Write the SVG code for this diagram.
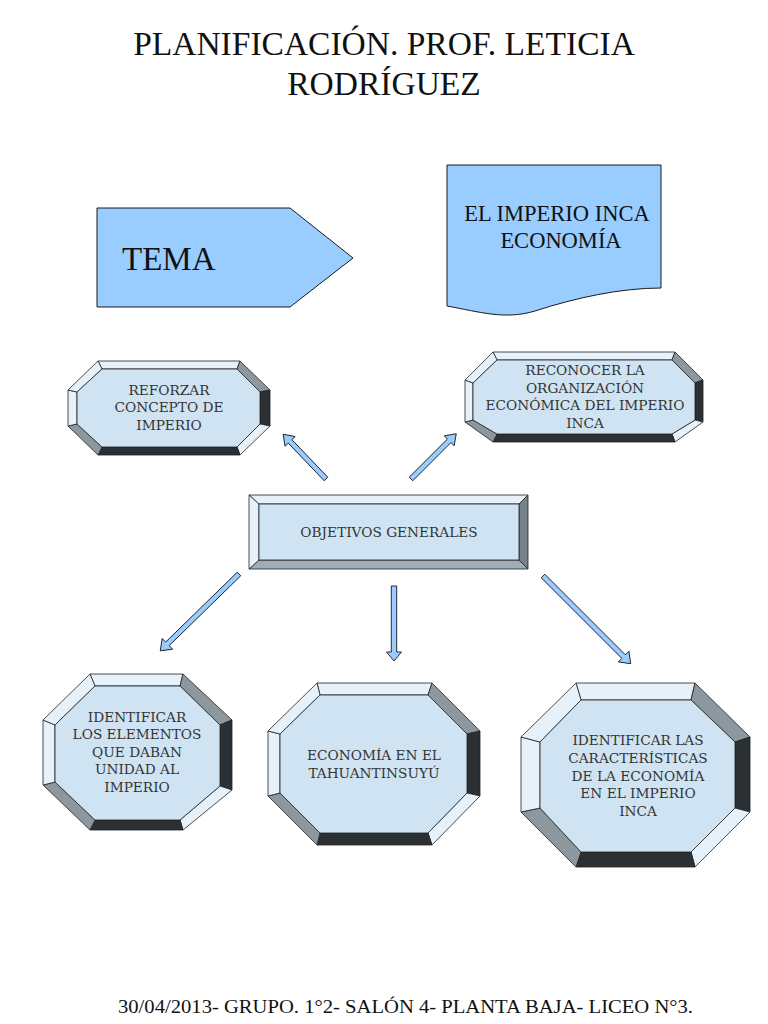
<svg xmlns="http://www.w3.org/2000/svg" width="768" height="1024" viewBox="0 0 768 1024">
<style>
.title{font-family:"Liberation Serif",serif;font-size:33.5px;fill:#111;text-anchor:middle}
.foot{font-family:"Liberation Serif",serif;font-size:18px;fill:#111}
.big{font-family:"Liberation Serif",serif;fill:#111}
.shape{fill:#99ccff;stroke:#1a1a1a;stroke-width:1}
.lt{fill:#e6f1fa;stroke:#222;stroke-width:0.8}
.gr{fill:#8c979e;stroke:#222;stroke-width:0.8}
.dk{fill:#2a3033;stroke:#222;stroke-width:0.8}
.mg{fill:#9eaeb9;stroke:#222;stroke-width:0.8}
.rg{fill:#75828a;stroke:#222;stroke-width:0.8}
.face{fill:#cfe3f2;stroke:#222;stroke-width:0.8}
.lbl{font-family:"DejaVu Serif",serif;font-size:13.7px;fill:#333;text-anchor:middle}
.arr{fill:#99ccff;stroke:#1a1a1a;stroke-width:0.9}
</style>
<rect width="768" height="1024" fill="#fff"/>
<text class="title" x="384" y="55">PLANIFICACIÓN. PROF. LETICIA</text>
<text class="title" x="384" y="95">RODRÍGUEZ</text>

<g id="tema">
<polygon class="shape" points="97,208 290,208 353,258 290,307 97,307"/>
<text class="big" x="122" y="270" font-size="33">TEMA</text>
</g>

<g id="imperio">
<path class="shape" d="M447,165 H661 V288 C620,288 575,298 535,311 C505,320 480,312 447,306 Z"/>
<text class="big" x="557" y="221" font-size="22.5" text-anchor="middle">EL IMPERIO INCA</text>
<text class="big" x="561" y="248" font-size="22.5" text-anchor="middle">ECONOMÍA</text>
</g>

<g id="reforzar">
<polygon class="lt" points="98,361 240,361 237,369 102,369"/>
<polygon class="gr" points="240,361 270,390 260,392 237,369"/>
<polygon class="dk" points="270,390 270,426 260,424 260,392"/>
<polygon class="lt" points="270,426 240,455 237,447 260,424"/>
<polygon class="dk" points="240,455 98,455 102,447 237,447"/>
<polygon class="gr" points="98,455 68,426 77,424 102,447"/>
<polygon class="lt" points="68,426 68,390 77,392 77,424"/>
<polygon class="lt" points="68,390 98,361 102,369 77,392"/>
<polygon class="face" points="102,369 237,369 260,392 260,424 237,447 102,447 77,424 77,392"/>
<text class="lbl" x="169" y="395">REFORZAR</text>
<text class="lbl" x="169" y="412">CONCEPTO DE</text>
<text class="lbl" x="169" y="430">IMPERIO</text>
</g>

<g id="reconocer">
<polygon class="lt" points="493,352 675,352 672,360 497,360"/>
<polygon class="gr" points="675,352 703,380 695,383 672,360"/>
<polygon class="dk" points="703,380 703,422 695,420 695,383"/>
<polygon class="lt" points="703,422 675,442 672,434 695,420"/>
<polygon class="dk" points="675,442 493,442 497,434 672,434"/>
<polygon class="gr" points="493,442 465,422 473,420 497,434"/>
<polygon class="lt" points="465,422 465,380 473,383 473,420"/>
<polygon class="lt" points="465,380 493,352 497,360 473,383"/>
<polygon class="face" points="497,360 672,360 695,383 695,420 672,434 497,434 473,420 473,383"/>
<text class="lbl" x="585" y="375">RECONOCER LA</text>
<text class="lbl" x="585" y="393">ORGANIZACIÓN</text>
<text class="lbl" x="585" y="410">ECONÓMICA DEL IMPERIO</text>
<text class="lbl" x="585" y="428">INCA</text>
</g>

<g id="objetivos">
<polygon class="lt" points="249,495 528,495 519,504 259,504"/>
<polygon class="rg" points="528,495 528,569 519,560 519,504"/>
<polygon class="mg" points="528,569 249,569 259,560 519,560"/>
<polygon class="lt" points="249,569 249,495 259,504 259,560"/>
<rect class="face" x="259" y="504" width="260" height="56"/>
<text class="lbl" x="389" y="537">OBJETIVOS GENERALES</text>
</g>

<g id="identificar-elementos">
<polygon class="lt" points="90,674 183,674 180,686 95,686"/>
<polygon class="gr" points="183,674 232,720 220,725 180,686"/>
<polygon class="dk" points="232,720 232,790 220,786 220,725"/>
<polygon class="lt" points="232,790 183,830 180,820 220,786"/>
<polygon class="dk" points="183,830 90,830 95,820 180,820"/>
<polygon class="gr" points="90,830 43,785 55,782 95,820"/>
<polygon class="lt" points="43,785 43,720 55,725 55,782"/>
<polygon class="lt" points="43,720 90,674 95,686 55,725"/>
<polygon class="face" points="95,686 180,686 220,725 220,786 180,820 95,820 55,782 55,725"/>
<text class="lbl" x="137" y="722">IDENTIFICAR</text>
<text class="lbl" x="137" y="739">LOS ELEMENTOS</text>
<text class="lbl" x="137" y="757">QUE DABAN</text>
<text class="lbl" x="137" y="774">UNIDAD AL</text>
<text class="lbl" x="137" y="792">IMPERIO</text>
</g>

<g id="economia">
<polygon class="lt" points="317,683 432,683 428,695 320,695"/>
<polygon class="gr" points="432,683 480,731 467,734 428,695"/>
<polygon class="dk" points="480,731 480,796 467,793 467,734"/>
<polygon class="lt" points="480,796 432,845 428,833 467,793"/>
<polygon class="dk" points="432,845 317,845 320,833 428,833"/>
<polygon class="gr" points="317,845 268,796 280,793 320,833"/>
<polygon class="lt" points="268,796 268,731 280,734 280,793"/>
<polygon class="lt" points="268,731 317,683 320,695 280,734"/>
<polygon class="face" points="320,695 428,695 467,734 467,793 428,833 320,833 280,793 280,734"/>
<text class="lbl" x="374" y="760">ECONOMÍA EN EL</text>
<text class="lbl" x="374" y="778">TAHUANTINSUYÚ</text>
</g>

<g id="identificar-caracteristicas">
<polygon class="lt" points="576,683 695,683 691,700 581,700"/>
<polygon class="gr" points="695,683 750,737 735,742 691,700"/>
<polygon class="dk" points="750,737 750,812 735,808 735,742"/>
<polygon class="lt" points="750,812 695,867 691,852 735,808"/>
<polygon class="dk" points="695,867 576,867 581,852 691,852"/>
<polygon class="gr" points="576,867 521,812 540,808 581,852"/>
<polygon class="lt" points="521,812 521,737 540,742 540,808"/>
<polygon class="lt" points="521,737 576,683 581,700 540,742"/>
<polygon class="face" points="581,700 691,700 735,742 735,808 691,852 581,852 540,808 540,742"/>
<text class="lbl" x="638" y="745">IDENTIFICAR LAS</text>
<text class="lbl" x="638" y="763">CARACTERÍSTICAS</text>
<text class="lbl" x="638" y="781">DE LA ECONOMÍA</text>
<text class="lbl" x="638" y="798">EN EL IMPERIO</text>
<text class="lbl" x="638" y="816">INCA</text>
</g>

<g id="connectors">
<polygon class="arr" transform="translate(326,479) rotate(-133.7)" points="0,-2.5 52,-2.5 52,-7 62,0 52,7 52,2.5 0,2.5"/>
<polygon class="arr" transform="translate(411,479) rotate(-45)" points="0,-2.5 54,-2.5 54,-7 64,0 54,7 54,2.5 0,2.5"/>
<polygon class="arr" transform="translate(239,574) rotate(135.7)" points="0,-2.5 100,-2.5 100,-7.5 110,0 100,7.5 100,2.5 0,2.5"/>
<polygon class="arr" transform="translate(394,586) rotate(90)" points="0,-2.7 66,-2.7 66,-7.5 75,0 66,7.5 66,2.7 0,2.7"/>
<polygon class="arr" transform="translate(543,576) rotate(45)" points="0,-2.5 114,-2.5 114,-7.5 124,0 114,7.5 114,2.5 0,2.5"/>
</g>

<text class="foot" x="118" y="1013" textLength="575" lengthAdjust="spacingAndGlyphs">30/04/2013- GRUPO. 1°2- SALÓN 4- PLANTA BAJA- LICEO N°3.</text>
</svg>
